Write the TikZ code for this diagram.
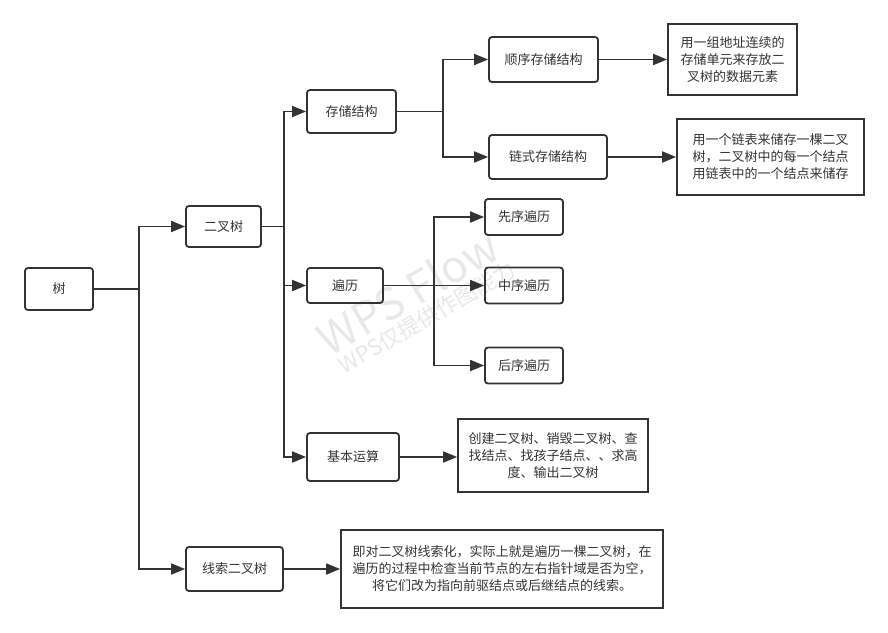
\documentclass[tikz,border=0pt]{standalone}
\usepackage{fontspec}
\setmainfont{Noto Sans CJK SC}
\usetikzlibrary{arrows.meta}
\definecolor{linegray}{HTML}{333333}
\definecolor{markgray}{HTML}{E8E8E8}

\begin{document}
\begin{tikzpicture}[
            x=1pt,
            y=-1pt,
            box/.style={draw=linegray,line width=1.8pt,rounded corners=3pt,inner sep=0pt,text=linegray,font=\fontsize{13}{17}\selectfont},
            note/.style={draw=linegray,line width=1.8pt,inner sep=0pt,align=center,text=linegray,font=\fontsize{13}{17}\selectfont},
            link/.style={draw=linegray,line width=1.8pt,-{Triangle[length=14pt,width=11pt]}},
            watermark/.style={text=markgray,inner sep=0pt}
        ]
            \useasboundingbox (0,0) rectangle (888,632);

            % watermark
            \node[watermark,rotate=30,font=\fontsize{44}{46}\selectfont] (wm1) at (408,292) {WPS Flow};
            \node[watermark,rotate=30,font=\fontsize{22}{24}\selectfont] (wm2) at (427,317) {WPS仅提供作图能力};

            \node[box,minimum width=68,minimum height=42] (tree) at (59,289) {树};
            \node[box,minimum width=75,minimum height=41] (bt) at (223.5,226.5) {二叉树};
            \node[box,minimum width=97,minimum height=44] (thr) at (234.5,569) {线索二叉树};

            \node[box,minimum width=89,minimum height=43] (store) at (351.5,111.5) {存储结构};
            \node[box,minimum width=76,minimum height=35] (trav) at (345,285.5) {遍历};
            \node[box,minimum width=92,minimum height=48] (ops) at (353,457) {基本运算};

            \node[box,minimum width=109,minimum height=45] (seq) at (543.5,59.5) {顺序存储结构};
            \node[box,minimum width=118,minimum height=44] (lnk) at (548,157) {链式存储结构};

            \foreach \n/\t/\y in {pre/先序遍历/217,mid/中序遍历/285.5,post/后序遍历/365.5} {
                \node[box,minimum width=78,minimum height=36] (\n) at (524,\y) {\t};
            }

            \node[note,minimum width=129,minimum height=71] (seqnote) at (732.5,59.5)
                {用一组地址连续的\\存储单元来存放二\\叉树的数据元素};
            \node[note,minimum width=187,minimum height=76] (lnknote) at (770.5,157)
                {用一个链表来储存一棵二叉\\树，二叉树中的每一个结点\\用链表中的一个结点来储存};
            \node[note,minimum width=190,minimum height=73] (opsnote) at (553,455.5)
                {创建二叉树、销毁二叉树、查\\找结点、找孩子结点、、求高\\度、输出二叉树};
            \node[note,minimum width=322,minimum height=78] (thrnote) at (502,569)
                {即对二叉树线索化，实际上就是遍历一棵二叉树，在\\遍历的过程中检查当前节点的左右指针域是否为空，\\将它们改为指向前驱结点或后继结点的线索。};

            \coordinate (j1) at (139,289);
            \coordinate (j2) at (284,226.5);
            \coordinate (j3) at (443,111.5);
            \coordinate (j4) at (434,285.5);

            \foreach \t in {bt,thr} {
                \draw[link] (tree.east) -- (j1) |- (\t.west);
            }
            \foreach \t in {store,trav,ops} {
                \draw[link] (bt.east) -- (j2) |- (\t.west);
            }
            \foreach \t in {seq,lnk} {
                \draw[link] (store.east) -- (j3) |- (\t.west);
            }
            \foreach \t in {pre,mid,post} {
                \draw[link] (trav.east) -- (j4) |- (\t.west);
            }

            \foreach \s/\t in {seq/seqnote,lnk/lnknote,ops/opsnote,thr/thrnote} {
                \draw[link] (\s.east) -- (\s.east -| \t.west);
            }
        \end{tikzpicture}
\end{document}
